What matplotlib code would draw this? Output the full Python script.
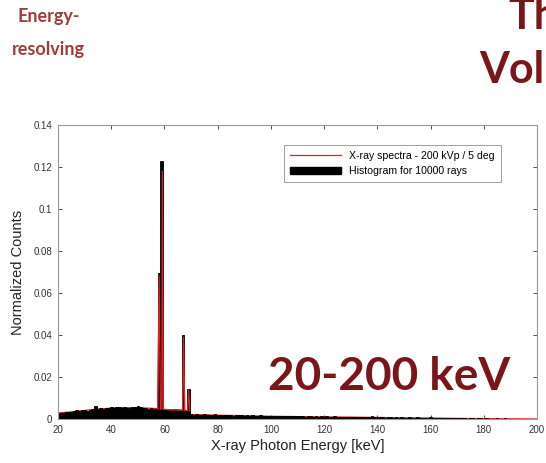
import numpy as np
import matplotlib
matplotlib.use('Agg')
import matplotlib.pyplot as plt
from matplotlib.patches import Patch
from matplotlib.lines import Line2D

plt.rcParams['font.family'] = ['Liberation Sans', 'DejaVu Sans']

# Histogram (1 keV bins, centred on integer energies 20..199), values x1e-3
hist_energy = np.arange(20, 200)
hist_counts = np.array([
    2.6, 2.8, 3.0, 3.2, 3.4, 3.3, 3.8, 4.2, 3.9, 4.1,
    4.3, 4.0, 4.5, 4.6, 6.4, 4.8, 5.2, 5.0, 5.3, 5.1,
    5.6, 5.4, 5.8, 5.5, 5.3, 5.7, 5.4, 5.2, 5.9, 5.5,
    6.3, 5.6, 5.1, 5.3, 4.9, 5.2, 4.8, 5.0, 69.5, 123.0,
    4.6, 4.4, 4.5, 4.2, 4.6, 4.3, 4.5, 40.0, 4.1, 14.3,
    2.2, 2.0, 2.3, 2.1, 1.9, 2.2, 2.0, 2.1, 1.8, 2.4,
    1.9, 1.8, 2.0, 1.7, 1.9, 1.8, 1.6, 1.9, 1.7, 1.8,
    1.6, 1.8, 1.5, 1.7, 1.6, 1.5, 1.7, 1.4, 1.6, 1.5,
    1.4, 1.6, 1.3, 1.5, 1.4, 1.3, 1.5, 1.2, 1.4, 1.3,
    1.3, 1.2, 1.4, 1.1, 1.3, 1.2, 1.1, 1.3, 1.0, 1.2,
    1.1, 1.2, 1.0, 1.1, 1.2, 0.9, 1.1, 1.0, 1.1, 0.9,
    1.0, 0.9, 1.1, 0.8, 1.0, 0.9, 0.8, 1.0, 1.3, 0.9,
    0.8, 1.1, 0.9, 0.7, 0.8, 0.9, 0.7, 0.8, 0.6, 1.0,
    0.7, 0.6, 0.8, 0.6, 0.7, 0.9, 0.5, 0.6, 0.5, 0.6,
    0.8, 0.5, 0.4, 0.5, 0.6, 0.4, 0.5, 0.3, 0.4, 0.6,
    0.3, 0.4, 0.3, 0.4, 0.2, 0.3, 0.4, 0.2, 0.3, 0.5,
    0.2, 0.3, 0.2, 0.1, 0.2, 0.3, 0.1, 0.2, 0.3, 0.1,
    0.1, 0.1, 0.2, 0.1, 0.1, 0.0, 0.1, 0.0, 0.0, 0.0,
]) * 1e-3

# Spectrum (red line), values x1e-3
spec_energy = [20, 25, 30, 35, 40, 45, 50, 55, 57.5, 58.0, 58.5, 59.0, 59.2, 59.6,
               62, 65, 66.8, 67.2, 67.6, 68.7, 69.1, 69.5, 69.6, 75, 80, 90, 100,
               110, 120, 130, 140, 150, 160, 170, 180, 190, 200]
spec_counts = np.array([2.9, 3.4, 4.1, 4.7, 5.2, 5.4, 5.4, 5.1, 4.9, 68.0, 4.8, 4.7, 118.0, 4.6,
                        4.4, 4.3, 4.2, 39.0, 4.1, 4.0, 13.8, 3.9, 2.1, 2.0, 1.8, 1.6, 1.3,
                        1.15, 1.0, 0.9, 0.75, 0.6, 0.45, 0.3, 0.2, 0.1, 0.0]) * 1e-3

xticks = [20, 40, 60, 80, 100, 120, 140, 160, 180, 200]
yticks = [0, 0.02, 0.04, 0.06, 0.08, 0.1, 0.12, 0.14]
ytick_labels = ['0', '0.02', '0.04', '0.06', '0.08', '0.1', '0.12', '0.14']

dark_red = '#7B1518'

fig = plt.figure(figsize=(5.46, 4.63), dpi=100)
ax = fig.add_axes([58/546, 1 - 419/463, (537-58)/546, (419-125)/463])

ax.plot(spec_energy, spec_counts, color='#dd2222', linewidth=0.9, zorder=1)
ax.bar(hist_energy, hist_counts, width=1.0, color='black', edgecolor='black',
       linewidth=0.6, zorder=2)
# red spectrum peaks show inside the black bars
ax.plot(spec_energy[8:22], spec_counts[8:22], color='#dd2222', linewidth=0.9, zorder=3)

ax.set_xlim(20, 200)
ax.set_ylim(0, 0.14)
ax.set_xticks(xticks)
ax.set_xticklabels([str(t) for t in xticks])
ax.set_yticks(yticks)
ax.set_yticklabels(ytick_labels)
ax.tick_params(direction='in', top=True, right=True, labelsize=7, colors='#333333',
               length=3, width=0.6, pad=4)
for s in ax.spines.values():
    s.set_color('#999999')
    s.set_linewidth(0.8)
ax.set_xlabel('X-ray Photon Energy [keV]', fontsize=10.5, color='#222222', labelpad=3)
ax.set_ylabel('Normalized Counts', fontsize=10.5, color='#222222', labelpad=6)

handles = [Line2D([0], [0], color='#dd2222', linewidth=0.9),
           Patch(facecolor='black', edgecolor='black')]
leg = ax.legend(handles, ['X-ray spectra - 200 kVp / 5 deg', 'Histogram for 10000 rays'],
                loc='upper right', bbox_to_anchor=(0.935, 0.95), fontsize=7.6,
                fancybox=False, edgecolor='#888888', handlelength=4.8,
                borderpad=0.55, labelspacing=0.5)
leg.get_frame().set_linewidth(0.7)

# slide text
fig.text(49/546, 1 - 22/463, 'Energy-', fontsize=13, fontweight='bold', family='Lato',
         color='#A33A3A', ha='center', va='baseline')
fig.text(48/546, 1 - 55/463, 'resolving', fontsize=13, fontweight='bold', family='Lato',
         color='#A33A3A', ha='center', va='baseline')
fig.text(508/546, 1 - 29/463, 'Th', fontsize=31, fontweight='bold', family='Lato',
         color=dark_red, ha='left', va='baseline')
fig.text(479/546, 1 - 83/463, 'Volu', fontsize=31, fontweight='bold', family='Lato',
         color=dark_red, ha='left', va='baseline')
fig.text(268/546, 1 - 390/463, '20-200 keV', fontsize=33, fontweight='bold', family='Lato',
         color=dark_red, ha='left', va='baseline')

fig.savefig('out.png', dpi=100)
